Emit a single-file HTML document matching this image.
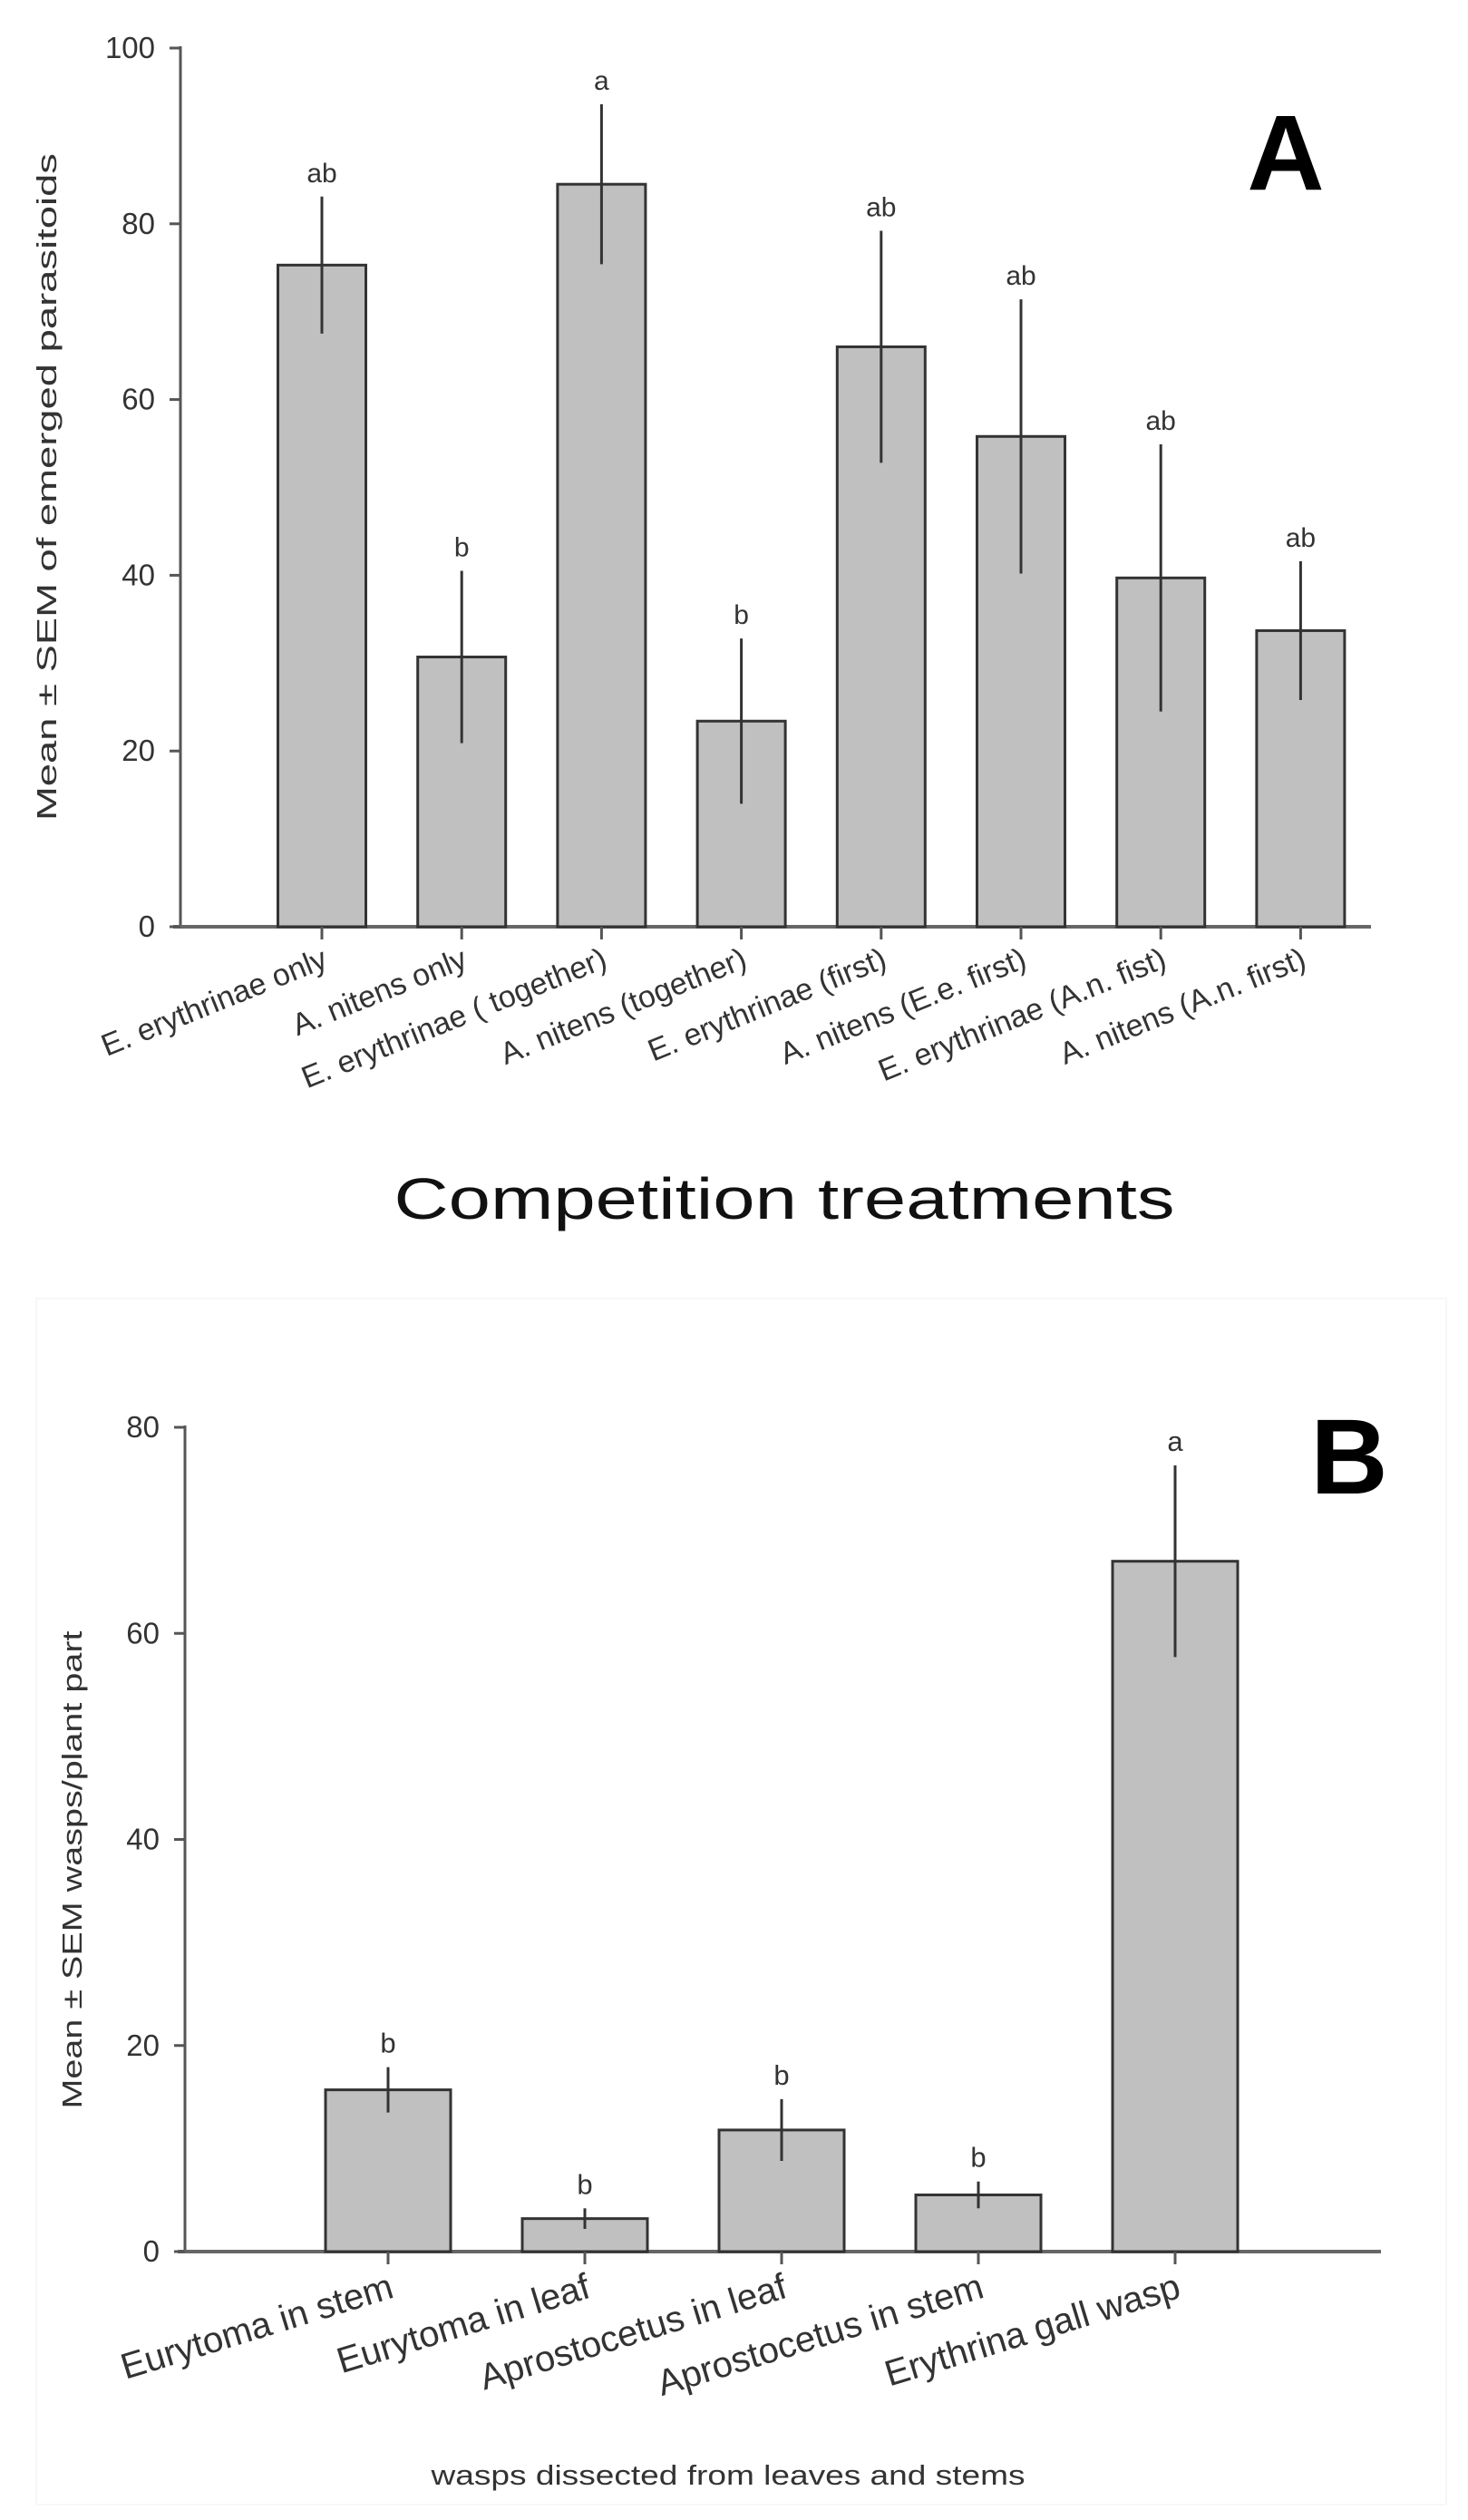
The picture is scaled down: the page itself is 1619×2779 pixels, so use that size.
<!DOCTYPE html>
<html><head><meta charset="utf-8"><style>
html,body{margin:0;padding:0;background:#fff}
svg{display:block}
text{font-family:"Liberation Sans",Arial,sans-serif;fill:#333}
</style></head><body>
<svg id="fig" width="1619" height="2779" viewBox="0 0 1619 2779">
  <rect x="0" y="0" width="1619" height="2779" fill="#fff"/>
  <rect x="40" y="1432" width="1555" height="1330" fill="none" stroke="#f7f7f7" stroke-width="2"/>
  <g id="chartA"></g>
  <g id="chartB"></g>
  <text x="1418" y="209" font-size="118" font-weight="bold" text-anchor="middle" style="fill:#000">A</text>
  <text x="1488" y="1647" font-size="118" font-weight="bold" text-anchor="middle" style="fill:#000">B</text>
  <text x="865" y="1344" font-size="64" text-anchor="middle" textLength="861" lengthAdjust="spacingAndGlyphs" style="fill:#111">Competition treatments</text>
  <text x="803" y="2740" font-size="31" text-anchor="middle" textLength="655" lengthAdjust="spacingAndGlyphs">wasps dissected from leaves and stems</text>
  <text transform="translate(62,537) rotate(-90)" font-size="31" text-anchor="middle" textLength="736" lengthAdjust="spacingAndGlyphs">Mean ± SEM of emerged parasitoids</text>
  <text transform="translate(90,2062) rotate(-90)" font-size="31" text-anchor="middle" textLength="527" lengthAdjust="spacingAndGlyphs">Mean ± SEM wasps/plant part</text>
</svg>
<script>
const catsA = ["E. erythrinae only","A. nitens only","E. erythrinae ( together)","A. nitens  (together)","E. erythrinae (first)","A. nitens (E.e. first)","E. erythrinae (A.n. fist)","A. nitens (A.n. first)"];
const meansA = [75.3, 30.7, 84.5, 23.4, 66, 55.8, 39.7, 33.7];
const errA = [7.8, 9.8, 9.1, 9.4, 13.2, 15.6, 15.2, 7.9];
const lettersA = ["ab","b","a","b","ab","ab","ab","ab"];
const ticksA = [0, 20, 40, 60, 80, 100];

const catsB = ["Eurytoma in stem","Eurytoma in leaf","Aprostocetus in leaf","Aprostocetus in stem","Erythrina gall wasp"];
const meansB = [15.7, 3.2, 11.8, 5.5, 67];
const errB = [2.2, 1.0, 3.0, 1.3, 9.3];
const lettersB = ["b","b","b","b","a"];
const ticksB = [0, 20, 40, 60, 80];

const NS = "http://www.w3.org/2000/svg";
function mk(parent, tag, attrs, txt){
  const e = document.createElementNS(NS, tag);
  for (const k in attrs) e.setAttribute(k, attrs[k]);
  if (txt !== undefined) e.textContent = txt;
  parent.appendChild(e);
  return e;
}
function draw(g, cfg, cats, means, errs, letters, ticks){
  const y = v => cfg.y0 - (v - 0) / (cfg.ymax) * (cfg.y0 - cfg.yTop);
  const x = i => cfg.c0 + i * cfg.step;
  let a = mk(g, "line", {x1:cfg.ax, y1:y(cfg.ymax)-2, x2:cfg.ax, y2:cfg.y0, stroke:"#555", "stroke-width":3});
  
  
  a = mk(g, "line", {x1:cfg.ax-8, y1:cfg.y0, x2:cfg.xEnd, y2:cfg.y0, stroke:"#666", "stroke-width":4});
  
  
  ticks.forEach(t => {
    const tl = mk(g, "line", {x1:cfg.ax-12, y1:y(t), x2:cfg.ax, y2:y(t), stroke:"#555", "stroke-width":3});
    
    
    const tx = mk(g, "text", {x:cfg.ax-28, y:y(t)+11, "font-size":cfg.tickFont, "text-anchor":"end"}, String(t));
    
    
  });
  cats.forEach((c, i) => {
    const cx = x(i), top = y(means[i]);
    const b = mk(g, "rect", {x:cx-cfg.bw/2, y:top, width:cfg.bw, height:cfg.y0-top, fill:"#c0c0c0", stroke:"#333", "stroke-width":3});
    
    
    const e = mk(g, "line", {x1:cx, y1:y(means[i]-errs[i]), x2:cx, y2:y(means[i]+errs[i]), stroke:"#333", "stroke-width":3});
    
    
    const l = mk(g, "text", {x:cx, y:y(means[i]+errs[i])-16, "font-size":cfg.letFont, "text-anchor":"middle"}, letters[i]);
    
    
    const tk = mk(g, "line", {x1:cx, y1:cfg.y0, x2:cx, y2:cfg.y0+14, stroke:"#555", "stroke-width":3});
    
    
    const lx = cx + 8, ly = cfg.y0 + cfg.labOff;
    const xl = mk(g, "text", {transform:`translate(${lx},${ly}) rotate(${-cfg.angle})`, "font-size":cfg.labFont, "text-anchor":"end"}, c);
    
    
  });
}
draw(document.getElementById("chartA"),
  {ax:199, y0:1022, yTop:53, ymax:100, c0:355, step:154.2, bw:97, xEnd:1512, tickFont:33, letFont:30, labFont:34, angle:22, labOff:44},
  catsA, meansA, errA, lettersA, ticksA);
draw(document.getElementById("chartB"),
  {ax:204, y0:2483, yTop:1574, ymax:80, c0:428, step:217, bw:138, xEnd:1523, tickFont:33, letFont:31, labFont:40, angle:17, labOff:50},
  catsB, meansB, errB, lettersB, ticksB);
</script>
</body></html>
